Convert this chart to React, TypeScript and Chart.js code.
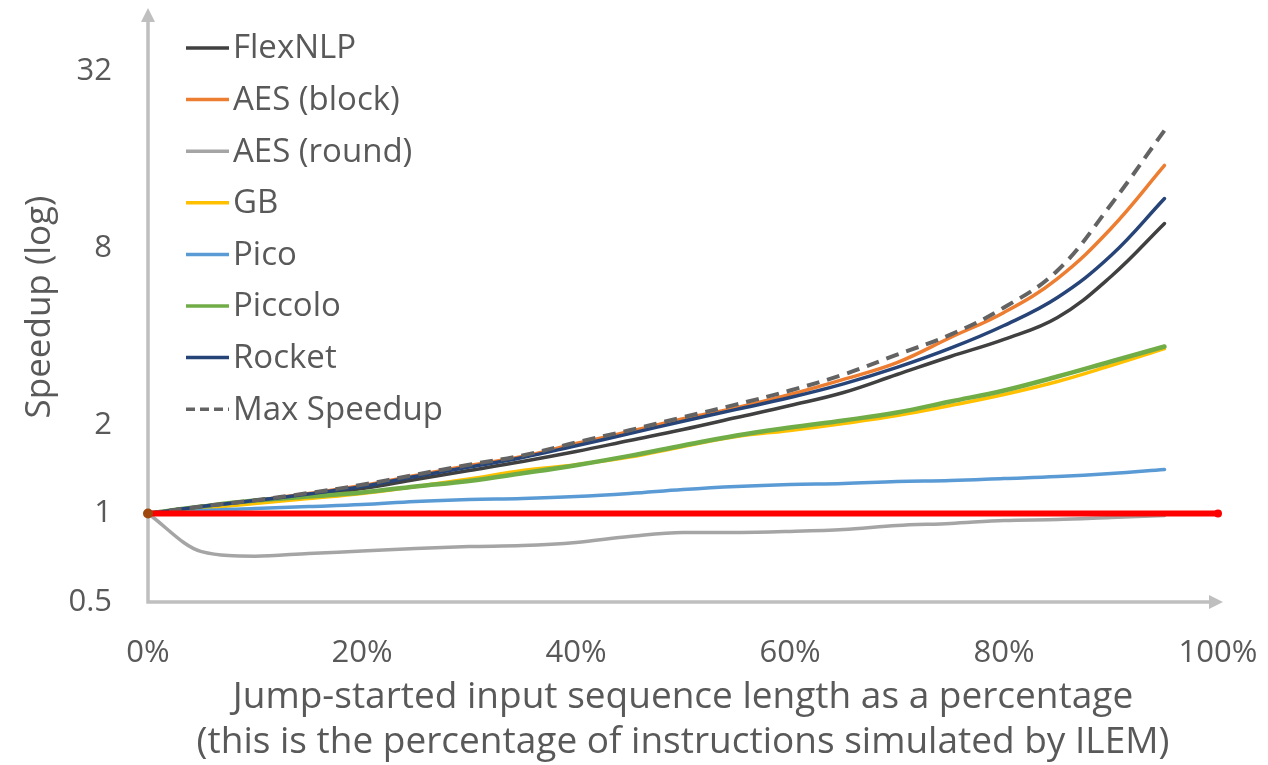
import React, { useEffect, useRef } from "react";
import { Chart, registerables } from "chart.js";

Chart.register(...registerables);

// ---- data ----
const xPercent = [0, 5, 10, 15, 20, 25, 30, 35, 40, 45, 50, 55, 60, 65, 70, 75, 80, 85, 90, 95];

const flexNLP = [1, 1.048, 1.099, 1.151, 1.216, 1.305, 1.4, 1.503, 1.625, 1.771, 1.93, 2.12, 2.33, 2.58, 2.97, 3.42, 3.91, 4.64, 6.4, 9.69];
const aesBlock = [1, 1.056, 1.107, 1.17, 1.245, 1.347, 1.456, 1.563, 1.73, 1.9, 2.1, 2.29, 2.54, 2.86, 3.26, 3.97, 4.83, 6.3, 9.32, 15.27];
const aesRound = [1, 0.742, 0.716, 0.731, 0.745, 0.76, 0.772, 0.778, 0.797, 0.835, 0.862, 0.862, 0.869, 0.882, 0.91, 0.925, 0.947, 0.954, 0.969, 0.984];
const gb = [1, 1.04, 1.081, 1.125, 1.17, 1.236, 1.31, 1.4, 1.465, 1.555, 1.69, 1.828, 1.916, 2.024, 2.154, 2.33, 2.54, 2.812, 3.187, 3.641];
const pico = [1, 1.024, 1.04, 1.056, 1.073, 1.099, 1.116, 1.125, 1.142, 1.17, 1.207, 1.236, 1.255, 1.265, 1.285, 1.295, 1.315, 1.336, 1.368, 1.411];
const piccolo = [1, 1.056, 1.107, 1.142, 1.179, 1.236, 1.29, 1.37, 1.46, 1.57, 1.703, 1.842, 1.961, 2.072, 2.206, 2.404, 2.621, 2.924, 3.289, 3.699];
const rocket = [1, 1.056, 1.107, 1.165, 1.235, 1.336, 1.439, 1.55, 1.7, 1.87, 2.06, 2.26, 2.48, 2.76, 3.14, 3.65, 4.36, 5.43, 7.54, 11.79];
const maxSpeedup = [1, 1.057, 1.109, 1.174, 1.252, 1.355, 1.465, 1.575, 1.745, 1.92, 2.125, 2.35, 2.62, 2.97, 3.47, 4.06, 5.02, 6.71, 11.25, 20.1];

const baselineX = [0, 100];
const baselineY = [1, 1];

const yTickValues = [0.5, 1, 2, 8, 32];
const xTickValues = [0, 20, 40, 60, 80, 100];

const seriesNames = ["FlexNLP", "AES (block)", "AES (round)", "GB", "Pico", "Piccolo", "Rocket", "Max Speedup"];

const xTitle = ["Jump-started input sequence length as a percentage", "(this is the percentage of instructions simulated by ILEM)"];
const yTitle = "Speedup (log)";

// ---- styles ----
const COLORS = {
  flex: "#404040",
  aesBlock: "#ED7D31",
  aesRound: "#A5A5A5",
  gb: "#FFC000",
  pico: "#5B9BD5",
  piccolo: "#70AD47",
  rocket: "#264478",
  max: "#636363",
  red: "#FF0000",
  brown: "#9E480E",
  axis: "#BFBFBF",
  text: "#595959",
};
const FONT = "'Open Sans', 'DejaVu Sans', sans-serif";

export default function App() {
  const canvasRef = useRef<HTMLCanvasElement>(null);

  useEffect(() => {
    document.body.style.margin = "0";
    const canvas = canvasRef.current;
    if (!canvas) return;

    const toPts = (ys: number[]) => ys.map((y, i) => ({ x: xPercent[i], y }));

    const mk = (
      label: string,
      ys: number[],
      color: string,
      width: number,
      order: number,
      dash: number[] = [],
      monotone = false
    ) => ({
      label,
      data: toPts(ys),
      borderColor: color,
      backgroundColor: color,
      borderWidth: width,
      borderDash: dash,
      borderCapStyle: dash.length ? "butt" : "round",
      pointRadius: 0,
      pointHoverRadius: 0,
      tension: 0.4,
      cubicInterpolationMode: monotone ? "monotone" : "default",
      fill: false,
      order,
      clip: false as const,
    });

    const datasets: any[] = [
      mk(seriesNames[0], flexNLP, COLORS.flex, 3.5, 8),
      mk(seriesNames[1], aesBlock, COLORS.aesBlock, 3.5, 7),
      mk(seriesNames[2], aesRound, COLORS.aesRound, 3.5, 6, [], true),
      mk(seriesNames[3], gb, COLORS.gb, 3.5, 5),
      mk(seriesNames[4], pico, COLORS.pico, 3.5, 4),
      mk(seriesNames[5], piccolo, COLORS.piccolo, 4.5, 3),
      mk(seriesNames[6], rocket, COLORS.rocket, 3.5, 2),
      mk(seriesNames[7], maxSpeedup, COLORS.max, 4, 1, [13, 8]),
      {
        label: "baseline",
        data: baselineX.map((x, i) => ({ x, y: baselineY[i] })),
        borderColor: COLORS.red,
        backgroundColor: [COLORS.brown, COLORS.red],
        borderWidth: 6,
        pointRadius: [5, 4],
        pointBorderWidth: 0,
        pointHoverRadius: 0,
        tension: 0,
        fill: false,
        order: 0,
        clip: false,
      },
    ];

    const legendEntries = [
      { name: seriesNames[0], color: COLORS.flex, dash: [] as number[] },
      { name: seriesNames[1], color: COLORS.aesBlock, dash: [] },
      { name: seriesNames[2], color: COLORS.aesRound, dash: [] },
      { name: seriesNames[3], color: COLORS.gb, dash: [] },
      { name: seriesNames[4], color: COLORS.pico, dash: [] },
      { name: seriesNames[5], color: COLORS.piccolo, dash: [] },
      { name: seriesNames[6], color: COLORS.rocket, dash: [] },
      { name: seriesNames[7], color: COLORS.max, dash: [9, 5] },
    ];

    const decor = {
      id: "decor",
      beforeDatasetsDraw(chart: any) {
        const { ctx, chartArea } = chart;
        const { left, top, right, bottom } = chartArea;
        ctx.save();
        ctx.strokeStyle = COLORS.axis;
        ctx.fillStyle = COLORS.axis;
        ctx.lineWidth = 3.5;
        ctx.beginPath();
        ctx.moveTo(left, bottom + 1.75);
        ctx.lineTo(left, top + 8);
        ctx.moveTo(left - 1.75, bottom);
        ctx.lineTo(right - 4, bottom);
        ctx.stroke();
        // arrow heads
        ctx.beginPath();
        ctx.moveTo(left, top - 4);
        ctx.lineTo(left - 7, top + 10);
        ctx.lineTo(left + 7, top + 10);
        ctx.closePath();
        ctx.fill();
        ctx.beginPath();
        ctx.moveTo(right + 5, bottom);
        ctx.lineTo(right - 9, bottom - 7);
        ctx.lineTo(right - 9, bottom + 7);
        ctx.closePath();
        ctx.fill();
        ctx.restore();
      },
      afterDraw(chart: any) {
        const { ctx } = chart;
        ctx.save();
        ctx.font = `33px ${FONT}`;
        ctx.textBaseline = "middle";
        ctx.textAlign = "left";
        legendEntries.forEach((e, i) => {
          const y = 48 + i * 51.6;
          ctx.strokeStyle = e.color;
          ctx.lineWidth = 3.5;
          ctx.setLineDash(e.dash);
          ctx.beginPath();
          ctx.moveTo(186, y);
          ctx.lineTo(229, y);
          ctx.stroke();
          ctx.setLineDash([]);
          ctx.fillStyle = COLORS.text;
          ctx.fillText(e.name, 233, y + 1);
        });
        ctx.restore();
      },
    };

    const chart = new Chart(canvas, {
      type: "line",
      data: { datasets },
      options: {
        animation: false,
        responsive: false,
        devicePixelRatio: 1,
        events: [],
        layout: { padding: { top: 12, right: 50, left: 0, bottom: 0 } },
        plugins: {
          legend: { display: false },
          tooltip: { enabled: false },
        },
        scales: {
          x: {
            type: "linear",
            min: 0,
            max: 100,
            grid: { display: false, drawTicks: false },
            border: { display: false },
            afterBuildTicks: (scale: any) => {
              scale.ticks = xTickValues.map((v) => ({ value: v }));
            },
            afterFit: (scale: any) => {
              scale.height = 163;
              scale.paddingLeft = 0;
              scale.paddingRight = 0;
            },
            ticks: {
              padding: 33,
              color: COLORS.text,
              font: { family: FONT, size: 31, lineHeight: 1.2 },
              maxRotation: 0,
              autoSkip: false,
              callback: (v: any) => `${v}%`,
            },
            title: {
              display: true,
              text: xTitle,
              color: COLORS.text,
              font: { family: FONT, size: 37, lineHeight: 1.22 },
              padding: { top: 0, bottom: 0 },
            },
          },
          y: {
            type: "logarithmic",
            min: 0.5,
            max: 50.8,
            grid: { display: false, drawTicks: false },
            border: { display: false },
            afterBuildTicks: (scale: any) => {
              scale.ticks = yTickValues.map((v) => ({ value: v }));
            },
            afterFit: (scale: any) => {
              scale.width = 148;
              scale.paddingTop = 0;
              scale.paddingBottom = 0;
            },
            ticks: {
              padding: 36,
              color: COLORS.text,
              font: { family: FONT, size: 31 },
              autoSkip: false,
              callback: (v: any) => String(v),
            },
            title: {
              display: true,
              text: yTitle,
              color: COLORS.text,
              font: { family: FONT, size: 35, lineHeight: 1.2 },
              padding: { top: 19, bottom: 0 },
            },
          },
        },
      } as any,
      plugins: [decor],
    });

    return () => chart.destroy();
  }, []);

  return (
    <div style={{ position: "fixed", left: 0, top: 0, width: 1268, height: 765, background: "#fff" }}>
      <canvas ref={canvasRef} width={1268} height={765} style={{ width: 1268, height: 765, display: "block" }} />
    </div>
  );
}
